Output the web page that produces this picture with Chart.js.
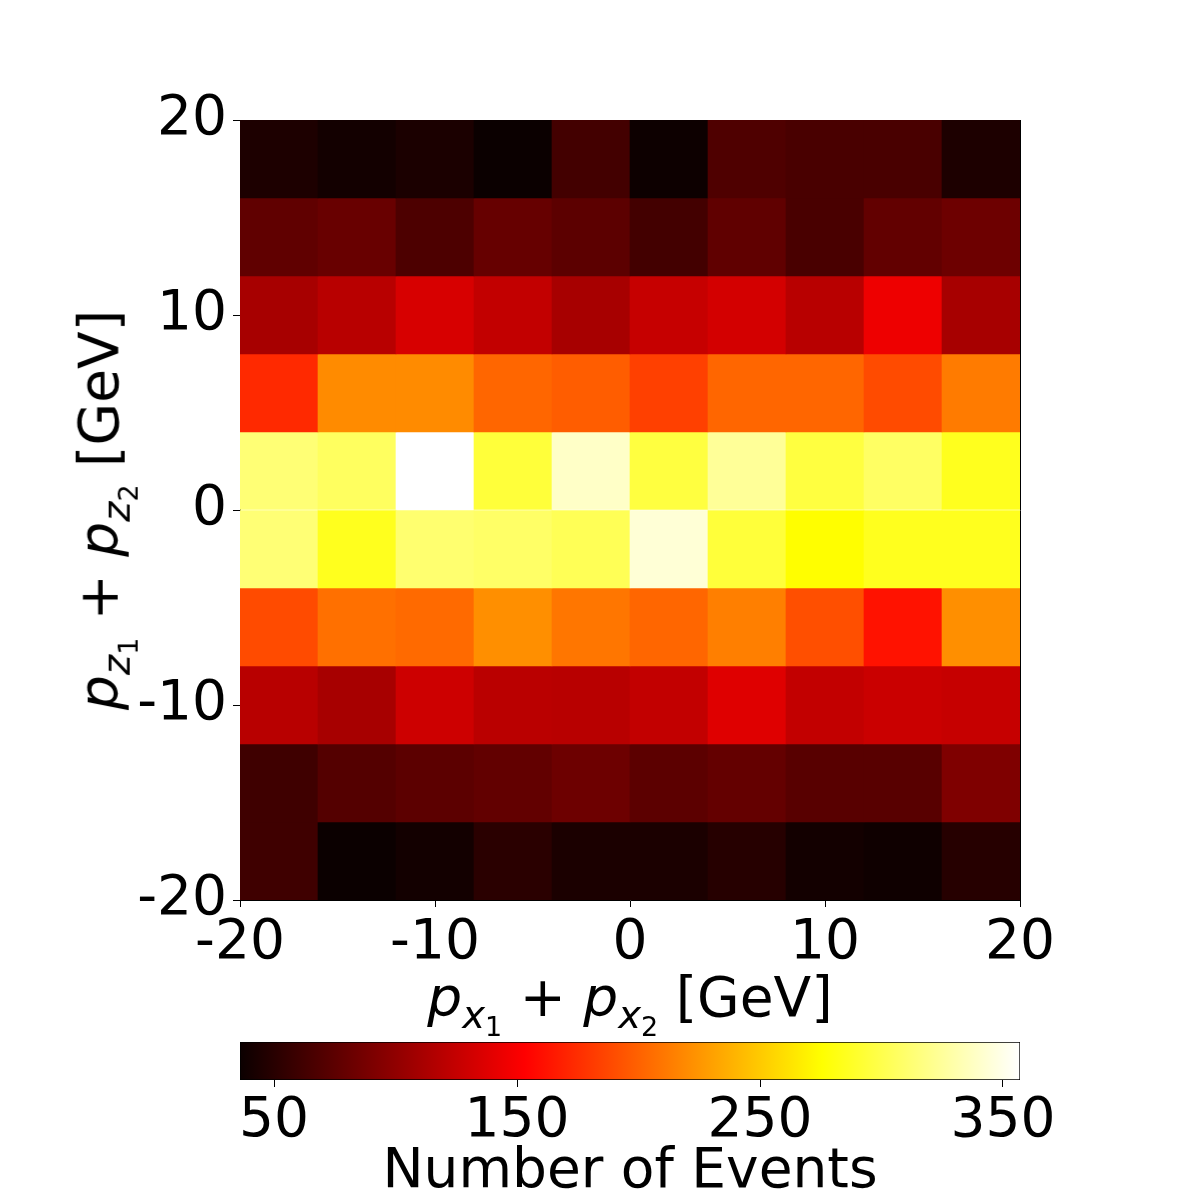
<html>
<head>
<title>pz vs px heatmap</title>
<style>
body { margin:0; padding:0; background:#fff; font-family:"DejaVu Sans", sans-serif; color:#000; overflow:hidden; }
#main { position:absolute; left:0; top:0; width:1200px; height:1030px; }
#cbar { position:absolute; left:0; top:1030px; width:1200px; height:176px; }
.lab { position:absolute; font-size:55px; white-space:nowrap; line-height:1; }
.lab i { font-style:oblique; }
.lab sub { font-size:0.7em; vertical-align:-0.3em; line-height:0; }
#xlab { left:630px; top:998px; transform:translate(-50%,-50%); }
#ylab { left:100px; top:510px; transform:translate(-50%,-50%) rotate(-90deg); }
</style>
</head>
<body>
<div id="main"><canvas id="heat"></canvas></div>
<div id="cbar"><canvas id="scale"></canvas></div>
<div class="lab" id="xlab"><i>p</i><sub><i>x</i><sub>1</sub></sub> + <i>p</i><sub><i>x</i><sub>2</sub></sub> [GeV]</div>
<div class="lab" id="ylab"><i>p</i><sub><i>z</i><sub>1</sub></sub> + <i>p</i><sub><i>z</i><sub>2</sub></sub> [GeV]</div>
<script src="https://cdn.jsdelivr.net/npm/chart.js@4/dist/chart.umd.min.js"></script>
<script>
// bin edges (GeV), same on both axes
const xEdges = [-20, -16, -12, -8, -4, 0, 4, 8, 12, 16, 20];
const yEdges = [-20, -16, -12, -8, -4, 0, 4, 8, 12, 16, 20];
const axisTicks = [-20, -10, 0, 10, 20];
const cbarTicks = [50, 150, 250, 350];

// event counts per x bin, one array per pz bin
const rowP16 = [45, 40, 44, 36, 63, 37, 69, 66, 66, 45];       // 16..20
const rowP12 = [77, 81, 68, 80, 75, 63, 77, 66, 78, 83];       // 12..16
const rowP8  = [111, 119, 134, 124, 111, 126, 132, 119, 145, 111];
const rowP4  = [173, 220, 220, 202, 198, 184, 202, 202, 189, 212];
const rowP0  = [313, 306, 357, 294, 339, 296, 324, 296, 307, 285];
const rowM4  = [313, 285, 311, 308, 303, 344, 294, 275, 285, 285];
const rowM8  = [189, 207, 204, 222, 210, 202, 214, 191, 162, 222];
const rowM12 = [119, 111, 129, 120, 119, 124, 138, 124, 128, 126];
const rowM16 = [61, 71, 75, 78, 83, 75, 79, 73, 73, 92];
const rowM20 = [61, 36, 40, 51, 44, 44, 49, 40, 38, 49];       // -20..-16

const rows = [rowM20, rowM16, rowM12, rowM8, rowM4, rowP0, rowP4, rowP8, rowP12, rowP16];
const allVals = rows.flat();
const vmin = Math.min(...allVals);
const vmax = Math.max(...allVals);

const clamp = v => Math.max(0, Math.min(1, v));
// matplotlib "hot"
function hot(v) {
  const t = clamp((v - vmin) / (vmax - vmin));
  const r = Math.min(1, 0.0416 + t / 0.365079 * (1 - 0.0416));
  const g = clamp((t - 0.365079) / (0.746032 - 0.365079));
  const b = clamp((t - 0.746032) / (1 - 0.746032));
  return `rgb(${Math.round(r * 255)},${Math.round(g * 255)},${Math.round(b * 255)})`;
}

const cells = [];
rows.forEach((vals, j) => {
  vals.forEach((v, i) => {
    cells.push({ x: (xEdges[i] + xEdges[i + 1]) / 2, y: [yEdges[j], yEdges[j + 1]], v: v });
  });
});

Chart.defaults.color = "#000";
Chart.defaults.font.family = '"DejaVu Sans", sans-serif';
Chart.defaults.font.size = 55;
Chart.defaults.animation = false;

const tickSet = list => scale => { scale.ticks = list.map(v => ({ value: v })); };
const edgeAxis = (pos, axis) => ({
  position: pos, display: true, min: 0, max: 1,
  ticks: { display: false }, grid: { display: false },
  border: { display: true, color: "#000", width: 1 },
  afterFit: s => { if (axis === "x") s.height = 0; else s.width = 0; }
});

new Chart(document.getElementById("heat"), {
  type: "bar",
  data: {
    datasets: [{
      data: cells,
      backgroundColor: ctx => hot(ctx.raw.v),
      borderWidth: 0,
      barPercentage: 1,
      categoryPercentage: 1
    }]
  },
  options: {
    responsive: true,
    maintainAspectRatio: false,
    layout: { padding: { top: 120, right: 180, bottom: 50, left: 0 } },
    plugins: { legend: { display: false }, tooltip: { enabled: false } },
    scales: {
      x: {
        type: "linear", min: xEdges[0], max: xEdges[xEdges.length - 1], offset: false,
        afterBuildTicks: tickSet(axisTicks),
        afterFit: s => { s.height = 80; },
        ticks: { padding: 4, maxRotation: 0, autoSkip: false },
        grid: { offset: false, drawOnChartArea: false, drawTicks: true, tickLength: 7, color: "#000" },
        border: { display: true, color: "#000", width: 1 }
      },
      y: {
        type: "linear", min: yEdges[0], max: yEdges[yEdges.length - 1],
        afterBuildTicks: tickSet(axisTicks),
        afterFit: s => { s.width = 240; },
        ticks: { padding: 6, autoSkip: false },
        grid: { offset: false, drawOnChartArea: false, drawTicks: true, tickLength: 7, color: "#000" },
        border: { display: true, color: "#000", width: 1 }
      },
      x2: edgeAxis("top", "x"),
      y2: edgeAxis("right", "y")
    }
  }
});

new Chart(document.getElementById("scale"), {
  type: "bar",
  data: {
    labels: [""],
    datasets: [{
      data: [[vmin, vmax]],
      backgroundColor: ctx => {
        const a = ctx.chart.chartArea;
        if (!a) return "#000";
        const g = ctx.chart.ctx.createLinearGradient(a.left, 0, a.right, 0);
        g.addColorStop(0, "rgb(11,0,0)");
        g.addColorStop(0.365079, "rgb(255,0,0)");
        g.addColorStop(0.746032, "rgb(255,255,0)");
        g.addColorStop(1, "rgb(255,255,255)");
        return g;
      },
      borderColor: "#000",
      borderWidth: 1,
      borderSkipped: false,
      barPercentage: 1,
      categoryPercentage: 1
    }]
  },
  options: {
    indexAxis: "y",
    responsive: true,
    maintainAspectRatio: false,
    layout: { padding: { top: 12, right: 180, bottom: 0, left: 240 } },
    plugins: { legend: { display: false }, tooltip: { enabled: false } },
    scales: {
      x: {
        type: "linear", min: vmin, max: vmax,
        afterBuildTicks: tickSet(cbarTicks),
        afterFit: s => { s.height = 126; },
        ticks: { padding: 2, maxRotation: 0, autoSkip: false },
        grid: { offset: false, drawOnChartArea: false, drawTicks: true, tickLength: 7, color: "#000" },
        border: { display: false },
        title: { display: true, text: "Number of Events", padding: 0 }
      },
      y: { display: false }
    }
  }
});
</script>
</body>
</html>
